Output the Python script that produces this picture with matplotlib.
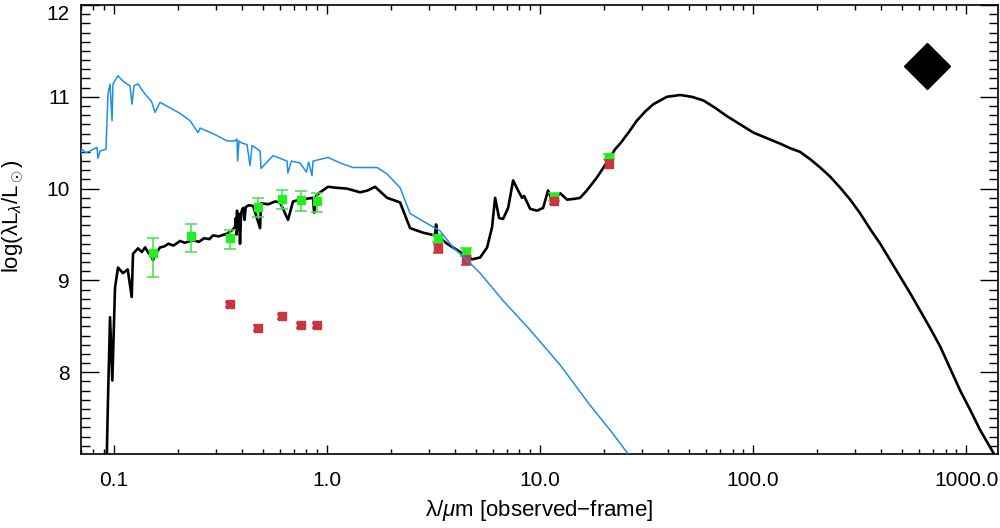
import numpy as np
import matplotlib
matplotlib.use("Agg")
import matplotlib.pyplot as plt
from matplotlib.ticker import FixedLocator, LogLocator, NullFormatter, MultipleLocator

# best-fit SED model (black), wavelength in micron, log(lambda L_lambda / Lsun)
model_lam = [0.0922, 0.0937, 0.0958, 0.0982, 0.1011, 0.1044, 0.1102, 0.1160, 0.1211, 0.1228,
             0.1296, 0.135, 0.140, 0.145, 0.150, 0.1524, 0.158, 0.1644, 0.172, 0.180,
             0.190, 0.2042, 0.215, 0.2349, 0.250, 0.265, 0.280, 0.2917, 0.310, 0.3393,
             0.360, 0.370, 0.373, 0.376, 0.378, 0.382, 0.386, 0.3904, 0.395, 0.4033,
             0.410, 0.415, 0.430, 0.450, 0.4848, 0.490, 0.530, 0.570, 0.6016, 0.656,
             0.692, 0.750, 0.800, 0.859, 0.870, 0.888, 0.927, 1.011, 1.100, 1.242, 1.429,
             1.550, 1.681, 1.913, 2.201, 2.453, 2.823, 3.214, 3.249, 3.284,
             3.659, 4.35, 4.795, 5.23, 5.64, 5.95, 6.15, 6.42, 6.70, 7.08, 7.47, 7.88,
             8.23, 8.41, 8.98, 9.68, 10.33, 10.90, 11.38, 12.41, 13.39, 14.60, 15.41,
             16.57, 17.49, 18.46, 19.83, 21.31, 22.50, 23.75, 25.98, 28.44, 31.12,
             34.04, 39.34, 45.43, 51.56, 58.45, 66.31, 75.24, 86.9, 100.3, 115.9,
             133.9, 149.2, 166.3, 185.2, 206.4, 229.9, 256.2, 285.4, 318.0, 354.2,
             394.8, 439.8, 490.0, 546.0, 608.1, 677.6, 755.1, 841.4, 937.2, 1044.0,
             1163.0, 1343.0, 1524.0]
model_logl = [6.93, 7.70, 8.60, 7.91, 8.92, 9.14, 9.08, 9.12, 8.82, 9.29,
              9.35, 9.31, 9.36, 9.30, 9.27, 9.22, 9.30, 9.36, 9.37, 9.40,
              9.38, 9.43, 9.41, 9.44, 9.42, 9.46, 9.45, 9.49, 9.48, 9.51,
              9.55, 9.58, 9.68, 9.50, 9.76, 9.55, 9.72, 9.40, 9.74, 9.79,
              9.66, 9.80, 9.82, 9.81, 9.57, 9.84, 9.83, 9.86, 9.85, 9.66,
              9.86, 9.88, 9.89, 9.90, 9.74, 9.92, 9.96, 10.02, 10.01, 10.00, 9.96,
              9.98, 10.02, 9.90, 9.85, 9.57, 9.52, 9.49, 9.61, 9.49,
              9.40, 9.29, 9.23, 9.25, 9.36, 9.58, 9.90, 9.68, 9.67, 9.79, 10.09, 9.98,
              9.90, 9.92, 9.78, 9.76, 9.79, 9.98, 9.87, 9.95, 9.88, 9.89, 9.90,
              9.98, 10.05, 10.12, 10.23, 10.34, 10.43, 10.49, 10.61, 10.74, 10.84,
              10.92, 11.00, 11.02, 11.00, 10.96, 10.88, 10.79, 10.70, 10.61, 10.55,
              10.49, 10.44, 10.40, 10.32, 10.23, 10.13, 10.01, 9.88, 9.73, 9.56,
              9.40, 9.22, 9.04, 8.86, 8.67, 8.48, 8.28, 8.04, 7.80, 7.59,
              7.37, 7.12, 6.87]

# unattenuated stellar template (blue)
star_lam = [0.0692, 0.0705, 0.0739, 0.0771, 0.0832, 0.0841, 0.0860, 0.0917, 0.0937,
            0.0958, 0.0979, 0.0989, 0.1044, 0.1102, 0.1189, 0.1215, 0.1241, 0.1296,
            0.1398, 0.1500, 0.1558, 0.1644, 0.1832, 0.2041, 0.2275, 0.2480, 0.2534,
            0.2916, 0.3393, 0.370, 0.378, 0.3800, 0.3863, 0.3948, 0.4211, 0.4350,
            0.4445, 0.4848, 0.4900, 0.558, 0.649, 0.655, 0.68, 0.747, 0.80, 0.82,
            0.850, 0.859, 1.011, 1.151, 1.324, 1.541, 1.717, 1.913, 2.201, 2.453,
            2.533, 2.948, 3.392, 3.904, 4.544, 5.23, 6.70, 8.98, 12.41, 17.17, 21.31,
            25.89, 27.9]
star_logl = [10.30, 10.43, 10.39, 10.41, 10.45, 10.33, 10.41, 10.43, 11.03,
             11.14, 10.74, 11.14, 11.23, 11.17, 11.12, 10.92, 11.12, 11.14,
             11.03, 10.95, 10.83, 10.94, 10.88, 10.82, 10.74, 10.61, 10.66,
             10.60, 10.52, 10.52, 10.54, 10.30, 10.52, 10.50, 10.48, 10.25,
             10.47, 10.41, 10.22, 10.36, 10.30, 10.17, 10.30, 10.28, 10.18, 10.29,
             10.14, 10.30, 10.34, 10.28, 10.23, 10.23, 10.23, 10.16, 10.01, 9.73,
             9.71, 9.62, 9.54, 9.36, 9.22, 9.08, 8.78, 8.46, 8.08, 7.64, 7.37,
             7.11, 6.99]

# photometry: GALEX FUV/NUV, SDSS ugriz, WISE W1-W4
obs_lam = [0.152, 0.230, 0.350, 0.473, 0.613, 0.752, 0.895, 3.31, 4.48, 11.6, 21.1]
obs_logl = [9.30, 9.48, 9.46, 9.80, 9.89, 9.88, 9.87, 9.46, 9.31, 9.91, 10.35]
obs_err_lo = [0.26, 0.17, 0.12, 0.11, 0.11, 0.12, 0.12, 0.04, 0.04, 0.04, 0.03]
obs_err_hi = [0.16, 0.13, 0.09, 0.10, 0.10, 0.09, 0.08, 0.04, 0.04, 0.04, 0.03]

red_lam = [0.350, 0.473, 0.613, 0.752, 0.895, 3.31, 4.48, 11.6, 21.1]
red_logl = [8.74, 8.48, 8.61, 8.51, 8.51, 9.35, 9.22, 9.86, 10.27]
red_err = [0.03, 0.03, 0.03, 0.03, 0.03, 0.05, 0.05, 0.03, 0.04]

diamond_lam = [654.0]
diamond_logl = [11.34]

plt.rcParams['font.family'] = ['Liberation Sans', 'DejaVu Sans']
plt.rcParams['mathtext.fontset'] = 'custom'
plt.rcParams['mathtext.rm'] = 'Liberation Sans'
plt.rcParams['mathtext.it'] = 'Liberation Sans:italic'

fig = plt.figure(figsize=(10, 5.28), dpi=100)
ax = fig.add_axes([0.081, 0.1402, 0.917, 0.8503])

ax.plot(model_lam, model_logl, color='black', lw=1.9, zorder=2)
ax.errorbar(obs_lam, obs_logl, yerr=[obs_err_lo, obs_err_hi], fmt='s', color='#22ee22',
            ms=5.5, ecolor='#44e044', elinewidth=1.1, capsize=4.5, capthick=1.1, zorder=3)
ax.errorbar(red_lam, red_logl, yerr=red_err, fmt='s', color='#c83741', ms=5.5,
            ecolor='#c83741', elinewidth=1.1, capsize=3.5, capthick=1.1, zorder=4)
ax.plot(star_lam, star_logl, color='#1f8fe6', lw=1.1, zorder=5)
ax.plot(diamond_lam, diamond_logl, 'D', color='black', ms=23, zorder=6)

ax.set_xscale('log')
ax.set_xlim(0.07, 1410)
ax.set_ylim(7.11, 12.0)

ax.xaxis.set_major_locator(FixedLocator([0.1, 1, 10, 100, 1000]))
ax.set_xticklabels(['0.1', '1.0', '10.0', '100.0', '1000.0'])
ax.xaxis.set_minor_locator(LogLocator(base=10, subs=np.arange(2, 10), numticks=20))
ax.xaxis.set_minor_formatter(NullFormatter())
ax.yaxis.set_major_locator(FixedLocator([8, 9, 10, 11, 12]))
ax.set_yticklabels(['8', '9', '10', '11', '12'])
ax.yaxis.set_minor_locator(MultipleLocator(0.1))

ax.tick_params(which='both', direction='in', top=True, right=True, labelsize=15, width=1)
ax.tick_params(axis='x', which='major', length=6.5, pad=12)
ax.tick_params(axis='x', which='minor', length=3.5)
ax.tick_params(axis='y', which='major', length=13, pad=8)
ax.tick_params(axis='y', which='minor', length=6.5)
ax.yaxis.get_major_ticks()[-1].label1.set_verticalalignment('top')
for s in ax.spines.values():
    s.set_linewidth(1.2)

ax.set_xlabel('λ/$\\mu$m [observed\u2212frame]', fontsize=16, labelpad=6)
ax.set_ylabel('log(λL$_\\lambda$/L$_\\odot$)', fontsize=16)
ax.yaxis.set_label_coords(-0.06, 0.53)

fig.savefig('out.png', dpi=100)
